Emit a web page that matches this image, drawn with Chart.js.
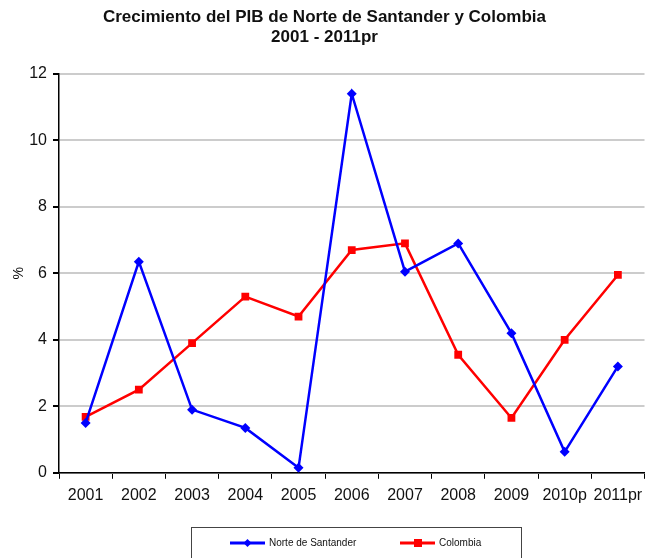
<!DOCTYPE html>
<html>
<head>
<meta charset="utf-8">
<script src="https://cdn.jsdelivr.net/npm/chart.js@4"></script>
<style>
  body { margin: 0; background: #fff; }
  #wrap { width: 650px; height: 558px; }
</style>
</head>
<body>
<div id="wrap"><canvas id="chart" width="650" height="558"></canvas></div>
<script>
const years = ['2001', '2002', '2003', '2004', '2005', '2006', '2007', '2008', '2009', '2010p', '2011pr']
const norteSantander = [1.5, 6.35, 1.9, 1.35, 0.15, 11.4, 6.05, 6.9, 4.2, 0.63, 3.2]
const colombia = [1.68, 2.5, 3.9, 5.3, 4.7, 6.7, 6.9, 3.55, 1.65, 4.0, 5.95]
const yTicks = [0, 2, 4, 6, 8, 10, 12]

// legend in a box, excel style (line + marker)
const boxLegend = {
    id: 'boxLegend',
    afterDraw(chart) {
        const ctx = chart.ctx
        ctx.save()
        ctx.strokeStyle = '#444'
        ctx.lineWidth = 1
        ctx.strokeRect(191.5, 527.5, 330, 40)
        const items = [
            {x: 230, ds: chart.data.datasets[0]},
            {x: 400, ds: chart.data.datasets[1]}
        ]
        const y = 543
        items.forEach(it => {
            ctx.strokeStyle = it.ds.borderColor
            ctx.lineWidth = 3
            ctx.beginPath()
            ctx.moveTo(it.x, y)
            ctx.lineTo(it.x + 35, y)
            ctx.stroke()
            ctx.fillStyle = it.ds.borderColor
            if (it.ds.pointStyle === 'rect') {
                ctx.fillRect(it.x + 14, y - 4, 8, 8)
            } else {
                ctx.beginPath()
                ctx.moveTo(it.x + 17.5, y - 4)
                ctx.lineTo(it.x + 21.5, y)
                ctx.lineTo(it.x + 17.5, y + 4)
                ctx.lineTo(it.x + 13.5, y)
                ctx.closePath()
                ctx.fill()
            }
            ctx.fillStyle = '#111'
            ctx.font = '10px "Liberation Sans", Arial, sans-serif'
            ctx.textBaseline = 'middle'
            ctx.fillText(it.ds.label, it.x + 39, y)
        })
        ctx.restore()
    }
}

new Chart(document.getElementById('chart').getContext('2d'), {
    type: 'line',
    data: {
        labels: years,
        datasets: [{
            label: 'Norte de Santander',
            data: norteSantander,
            borderColor: '#0000ff',
            backgroundColor: '#0000ff',
            borderWidth: 2.5,
            pointStyle: 'rectRot',
            pointRadius: 5,
            pointBorderWidth: 0,
            tension: 0
        }, {
            label: 'Colombia',
            data: colombia,
            borderColor: '#ff0000',
            backgroundColor: '#ff0000',
            borderWidth: 2.5,
            pointStyle: 'rect',
            pointRadius: 5.5,
            pointBorderWidth: 0,
            tension: 0
        }]
    },
    options: {
        responsive: false,
        animation: false,
        layout: {padding: {top: 0, right: 1, bottom: 46, left: 0}},
        plugins: {
            legend: {display: false},
            tooltip: {enabled: false},
            title: {
                display: true,
                text: ['Crecimiento del PIB de Norte de Santander y Colombia', '2001 - 2011pr'],
                color: '#111',
                font: {family: '"Liberation Sans", Arial, sans-serif', size: 17, weight: 'bold', lineHeight: 1.2},
                padding: {top: 7, bottom: 26}
            }
        },
        scales: {
            x: {
                offset: true,
                grid: {drawOnChartArea: false, tickColor: '#000', tickLength: 6, offset: true},
                border: {color: '#000', width: 1.5},
                ticks: {color: '#111', padding: 7, maxRotation: 0, autoSkip: false,
                        font: {family: '"Liberation Sans", Arial, sans-serif', size: 16}}
            },
            y: {
                min: 0,
                max: 12,
                afterBuildTicks: axis => { axis.ticks = yTicks.map(v => ({value: v})) },
                afterFit: axis => { axis.width = 59 },
                grid: {color: '#cccccc', lineWidth: 2, tickColor: '#000', tickLength: 6},
                border: {color: '#000', width: 1.5},
                ticks: {color: '#111', padding: 6,
                        font: {family: '"Liberation Sans", Arial, sans-serif', size: 16}},
                title: {display: true, text: '%', color: '#111', padding: {top: 11, bottom: 0},
                        font: {family: '"Liberation Sans", Arial, sans-serif', size: 14}}
            }
        }
    },
    plugins: [boxLegend]
})
</script>
</body>
</html>
